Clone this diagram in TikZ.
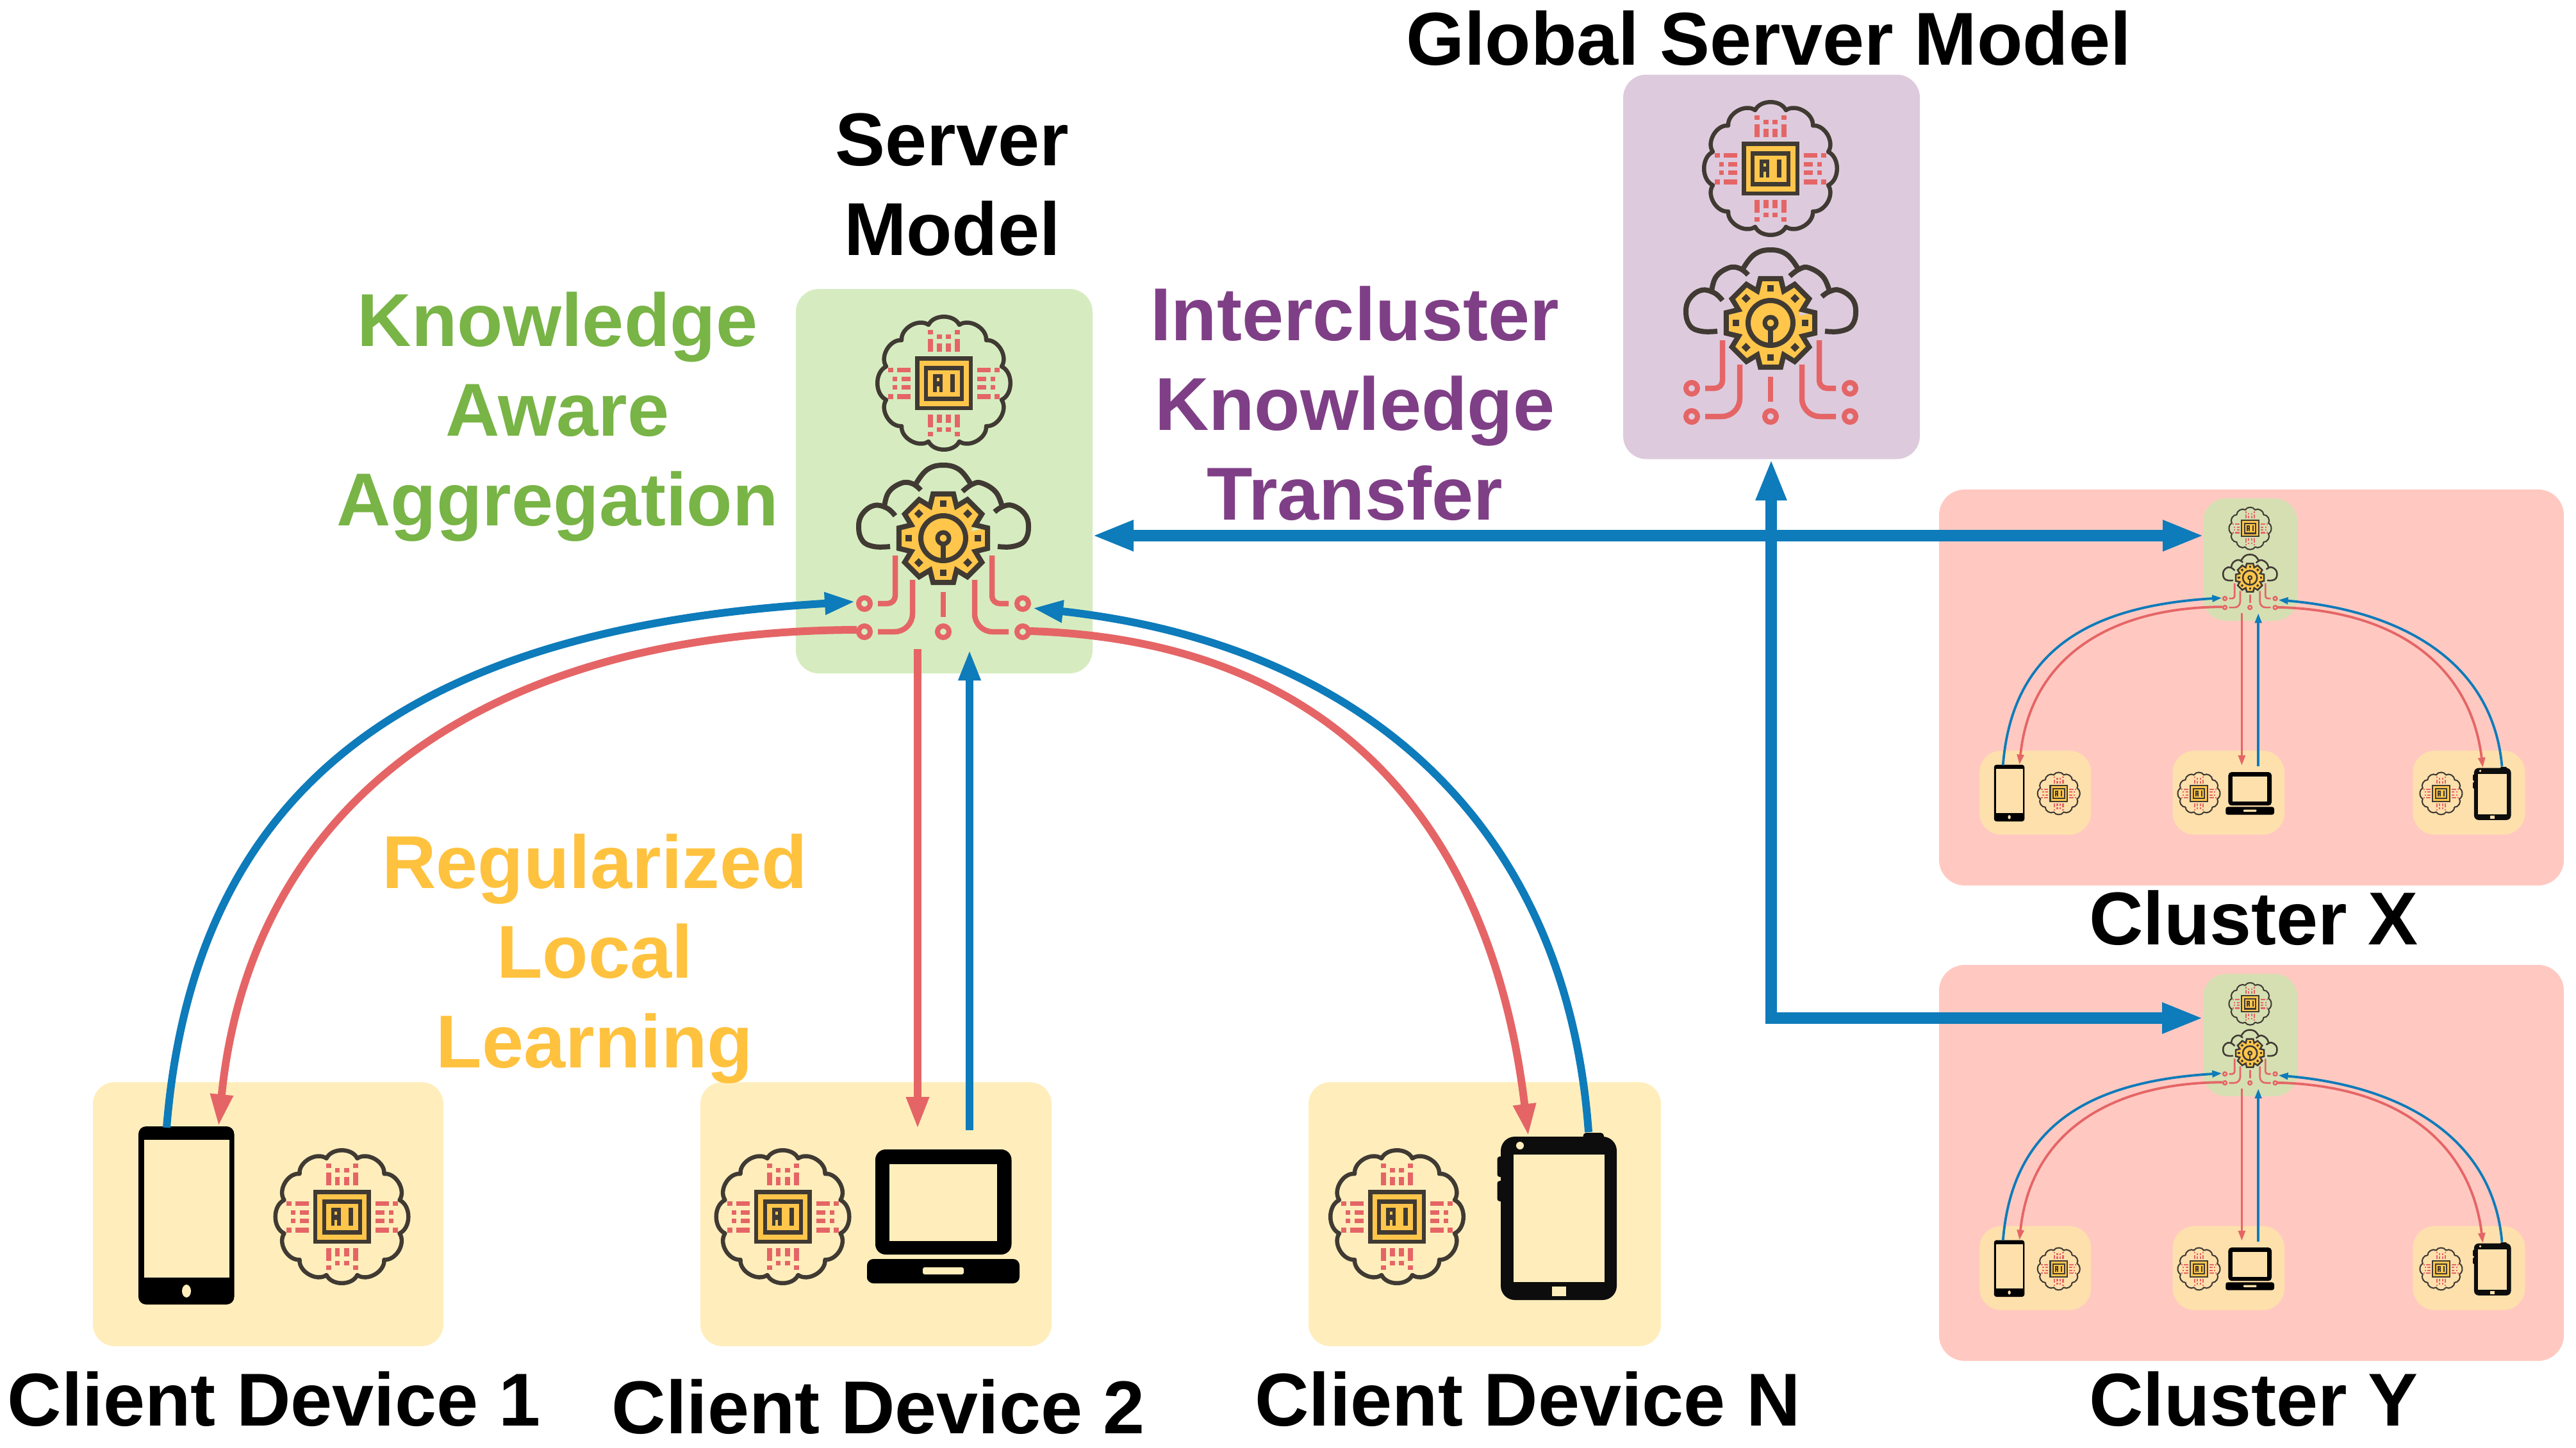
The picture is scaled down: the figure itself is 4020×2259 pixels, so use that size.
\documentclass[tikz,border=0pt]{standalone}
\usepackage{fontspec}
\setmainfont{Liberation Sans}
\usetikzlibrary{arrows.meta}
\definecolor{fedblue}{HTML}{0E7BBA}
\definecolor{fedred}{HTML}{E56566}
\definecolor{icondark}{HTML}{403A33}
\definecolor{iconyellow}{HTML}{FFC64B}
\definecolor{srvgreen}{HTML}{D6ECC0}
\definecolor{cligold}{HTML}{FFEEBC}
\definecolor{clupink}{HTML}{FFC9C1}
\definecolor{clusrv}{HTML}{D5DFB2}
\definecolor{clucli}{HTML}{FEE0AC}
\definecolor{globpurple}{HTML}{DDCBDD}
\definecolor{txtgreen}{HTML}{78B446}
\definecolor{txtpurple}{HTML}{7F3F86}
\definecolor{txtyellow}{HTML}{FFC23F}
\def\gs{1}
\def\iconbg{globpurple}
\tikzset{
  box/.style={rectangle,inner sep=0pt,transform shape,rounded corners=36pt},
  clibox/.style={box,rounded corners=34pt,minimum height=412pt},
  clusterbox/.style={box,fill=clupink,minimum width=975pt,minimum height=618pt,rounded corners=40pt},
  lab/.style={font=\fontsize{117pt}{140pt}\selectfont\bfseries,align=center,inner sep=0pt},
  linkblue/.style={draw=fedblue,line width=12pt*\gs,-{Triangle[length=48pt,width=32pt,scale=\gs]}},
  linkred/.style={draw=fedred,line width=12pt*\gs,-{Triangle[length=50pt,width=33pt,scale=\gs]}},
  bigblue/.style={draw=fedblue,line width=18pt,{Triangle[length=65pt,width=44pt]}-{Triangle[length=65pt,width=44pt]}},
  bigblueone/.style={draw=fedblue,line width=18pt,-{Triangle[length=65pt,width=44pt]}},
  trace/.style={draw=fedred,line width=8.5pt*\gs},
  pad/.style={draw=fedred,line width=8pt*\gs}
}
% chip in a cloud, centred on (#1,#2)
\newcommand\IconChip[2]{%
\begin{scope}[shift={(#1,#2)}]
  \draw[icondark,line width=6.5pt*\gs,line join=round]
    (24,-91) to[bend left=65] (66,-67) to[bend left=65] (90,-26) to[bend left=65] (90,26)
    to[bend left=65] (66,67) to[bend left=65] (24,91) to[bend left=65] (-24,91)
    to[bend left=65] (-66,67) to[bend left=65] (-90,26) to[bend left=65] (-90,-26)
    to[bend left=65] (-66,-67) to[bend left=65] (-24,-91) to[bend left=65] cycle;
  \foreach \sx in {-1,1}{
    \fill[fedred] ({\sx*17},-69) rectangle ({\sx*25},-49);
    \fill[fedred] ({\sx*17},-83) rectangle ({\sx*25},-76);
    \fill[fedred] ({\sx*3.3},-62) rectangle ({\sx*11},-49);
    \fill[fedred] ({\sx*3.3},-76) rectangle ({\sx*11},-69);
    \fill[fedred] ({\sx*17},69) rectangle ({\sx*25},49);
    \fill[fedred] ({\sx*17},83) rectangle ({\sx*25},76);
    \fill[fedred] ({\sx*3.3},62) rectangle ({\sx*11},49);
    \fill[fedred] ({\sx*3.3},76) rectangle ({\sx*11},69);
    \foreach \sy in {-1,1}{
      \fill[fedred] ({\sx*52},{\sy*17}) rectangle ({\sx*73},{\sy*24.5});
      \fill[fedred] ({\sx*79},{\sy*17}) rectangle ({\sx*87},{\sy*24.5});
      \fill[fedred] ({\sx*52},{\sy*3.3}) rectangle ({\sx*66},{\sy*10});
      \fill[fedred] ({\sx*73},{\sy*3.3}) rectangle ({\sx*80},{\sy*10});
    }
  }
  \fill[icondark] (-45,-42) rectangle (45,42);
  \fill[iconyellow] (-38.5,-35.5) rectangle (38.5,35.5);
  \fill[icondark] (-31,-27.5) rectangle (31,27.5);
  \fill[iconyellow] (-25,-20.5) rectangle (25,20.5);
  \fill[icondark] (-17,-14) rectangle (-2,13.5);
  \fill[iconyellow] (-11.5,-8) rectangle (-7.5,-3);
  \fill[iconyellow] (-11.5,5) rectangle (-7.5,13.5);
  \fill[icondark] (10,-14) rectangle (17,13.5);
\end{scope}}
% gear in a cloud with circuit traces; (#1,#2) is the gear centre
\newcommand\IconGear[2]{%
\begin{scope}[shift={(#1,#2)}]
  \draw[icondark,line width=8pt*\gs] plot[smooth,tension=.7] coordinates
    {(-83,13) (-108,13) (-126,4) (-132,-18) (-126,-38) (-108,-51) (-88,-47) (-75,-35)};
  \draw[icondark,line width=8pt*\gs] plot[smooth,tension=.7] coordinates
    {(-92,-49) (-85,-72) (-65,-86) (-48,-85) (-35,-75)};
  \draw[icondark,line width=8pt*\gs] plot[smooth,tension=.7] coordinates
    {(-42,-86) (-25,-107) (0,-114) (25,-107) (42,-86)};
  \draw[icondark,line width=8pt*\gs] plot[smooth,tension=.7] coordinates
    {(30,-73) (45,-84) (60,-86) (82,-72) (92,-49)};
  \draw[icondark,line width=8pt*\gs] plot[smooth,tension=.7] coordinates
    {(80,-41) (92,-49) (108,-51) (127,-38) (133,-18) (127,4) (108,13) (85,13)};
  \fill[iconyellow]
    ({-22.5}:54) \foreach \a in {0,45,...,315}{ -- ({\a-22.5}:54) -- ({\a-13}:71) -- ({\a+13}:71) } -- cycle;
  \fill[\iconbg] (60,-42) -- (44,-11) -- (58,-14) -- (62,-30) -- cycle;
  \fill[\iconbg] (-56,38) -- (-46,22) -- (-58,20) -- (-62,30) -- cycle;
  \draw[icondark,line width=8pt*\gs,line join=miter]
    ({-22.5}:54) \foreach \a in {0,45,...,315}{ -- ({\a-22.5}:54) -- ({\a-13}:71) -- ({\a+13}:71) } -- cycle;
  \foreach \a in {0,45,...,315}{
    \fill[icondark,rotate=\a] (49,-5) rectangle (59,5);
  }
  \draw[icondark,line width=8pt*\gs] (0,0) circle (35);
  \draw[icondark,line width=7pt*\gs] (0,0) circle (9);
  \draw[icondark,line width=8pt*\gs] (0,10) -- (0,33);
  \draw[trace,rounded corners=12pt*\gs] (-75,27) -- (-75,102) -- (-102,102);
  \draw[trace,rounded corners=28pt*\gs] (-48,65) -- (-48,146) -- (-102,146);
  \draw[trace] (0,84) -- (0,123);
  \draw[trace,rounded corners=12pt*\gs] (76,27) -- (76,102) -- (102,102);
  \draw[trace,rounded corners=28pt*\gs] (49,65) -- (49,146) -- (102,146);
  \draw[pad] (-123,102) circle (9);
  \draw[pad] (-123,146) circle (9);
  \draw[pad] (0,146) circle (9);
  \draw[pad] (124,102) circle (9);
  \draw[pad] (124,146) circle (9);
\end{scope}}
% federated group: #1 prefix, #2 #3 top-left of server box, #4 scale,
% #5 extra x offset of the last client, #6 server colour, #7 client colour
\newcommand\FedGroup[7]{%
\begin{scope}[shift={(#2,#3)},scale=#4,shift={(-1242,-451)},name prefix=#1-]
  \def\gs{#4}
  \def\iconbg{#6}
  \node[box,fill=#6,minimum width=463pt,minimum height=600pt] (srv) at (1473.5,751) {};
  \IconChip{1473}{598}
  \IconGear{1472}{840}
  % client 1
  \node[clibox,fill=#7,minimum width=547pt] (cli1) at (418.5,1895) {};
  \fill[black,rounded corners=12pt*\gs] (216,1758) rectangle (365.5,2036);
  \fill[#7] (225,1779) rectangle (357.5,1994);
  \fill[#7] (291,2015) ellipse (7 and 10);
  \IconChip{533.5}{1899}
  % client 2
  \node[clibox,fill=#7,minimum width=548pt] (cli2) at (1367,1895) {};
  \IconChip{1221.5}{1899}
  \fill[black,rounded corners=16pt*\gs] (1366,1794) rectangle (1578.5,1958);
  \fill[#7] (1388,1817) rectangle (1556,1937);
  \fill[black,rounded corners=10pt*\gs] (1353,1990) -- (1353,1965) -- (1591,1965) -- (1591,2003) -- (1353,2003) -- cycle;
  \fill[#7,rounded corners=3pt*\gs] (1440,1978) rectangle (1504,1989);
  % client N
  \begin{scope}[shift={(#5,0)}]
    \node[clibox,fill=#7,minimum width=550pt] (cliN) at (2317,1895) {};
    \IconChip{2180}{1899}
    \fill[black!95,rounded corners=5pt*\gs] (2470.5,1768) rectangle (2503,1790);
    \fill[black!95,rounded corners=4pt*\gs] (2336.5,1805) rectangle (2358,1837);
    \fill[black!95,rounded corners=4pt*\gs] (2336.5,1843) rectangle (2358,1875);
    \fill[black!95,rounded corners=22pt*\gs] (2342,1774) rectangle (2523,2029);
    \fill[#7] (2361.5,1802) rectangle (2504,2001);
    \fill[#7] (2372,1788) circle (6);
    \fill[#7] (2421.5,2008) rectangle (2444,2023);
    \coordinate (phN) at (2479,1767);
    \coordinate (inN) at (2385,1773);
  \end{scope}
  % connector ends
  \coordinate (padUL) at (1335,939);
  \coordinate (padLL) at (1337,983);
  \coordinate (padUR) at (1611,949);
  \coordinate (padLR) at (1607,985);
  \coordinate (srvB1) at (1432,1013);
  \coordinate (srvB2) at (1513,1014);
  \coordinate (ph1) at (260,1760);
  \coordinate (in1) at (341,1758);
  \coordinate (in2) at (1432,1762);
  \coordinate (ph2) at (1513,1764);
  % connectors
  \draw[linkblue] (ph1) .. controls (306,1190) and (690,978) .. (padUL);
  \draw[linkred] (padLL) .. controls (777,985) and (393,1238) .. (in1);
  \draw[linkred] (srvB1) -- (in2);
  \draw[linkblue] (ph2) -- (srvB2);
  \draw[linkblue] (phN) .. controls ({2444+#5*0.97},1280) and ({2120+#5*0.6},1005) .. (padUR);
  \draw[linkred] (padLR) .. controls ({2100+#5*0.6},1000) and ({2330+#5},1310) .. (inN);
\end{scope}}
\begin{document}
\begin{tikzpicture}[x=1pt,y=-1pt]
  \path[use as bounding box] (0,0) rectangle (4020,2259);
  % clusters
  \node[clusterbox] (clusterX) at (3513.5,1073) {};
  \node[clusterbox] (clusterY) at (3513.5,1815) {};
  % global model
  \node[box,fill=globpurple,minimum width=463pt,minimum height=600pt] (glob) at (2764.5,416.5) {};
  \IconChip{2763}{263}
  \IconGear{2763}{504}
  % groups
  \FedGroup{main}{1242}{451}{1}{0}{srvgreen}{cligold}
  \FedGroup{cx}{3438}{778}{0.318}{230}{clusrv}{clucli}
  \FedGroup{cy}{3438}{1520}{0.318}{230}{clusrv}{clucli}
  % inter-cluster links
  \coordinate (corner) at (2764,1589);
  \coordinate (globB) at (2764,716);
  \coordinate (srvR) at (1704,836);
  \coordinate (cxL) at (3440,836);
  \coordinate (cyL) at (3439,1589);
  \draw[bigblue] (srvR) -- (cxL);
  \draw[bigblueone] (corner) -- (globB);
  \draw[bigblueone] ([xshift=-9pt]corner) -- (cyL);
  % labels
  \node[lab] (tGlobal) at (2760,60) {Global Server Model};
  \node[lab] (tServer) at (1486,288) {Server\\Model};
  \node[lab,text=txtgreen] (tKnow) at (870,650) {Knowledge\\Aware\\Aggregation};
  \node[lab,text=txtpurple] (tInter) at (2114,630) {Intercluster\\Knowledge\\Transfer};
  \node[lab,text=txtyellow] (tReg) at (928,1496) {Regularized\\Local\\Learning};
  \node[lab] (tC1) at (428,2184) {Client Device 1};
  \node[lab] (tC2) at (1371,2196) {Client Device 2};
  \node[lab] (tCN) at (2384,2184) {Client Device N};
  \node[lab] (tCX) at (3517,1433) {Cluster X};
  \node[lab] (tCY) at (3517,2184) {Cluster Y};
\end{tikzpicture}
\end{document}
